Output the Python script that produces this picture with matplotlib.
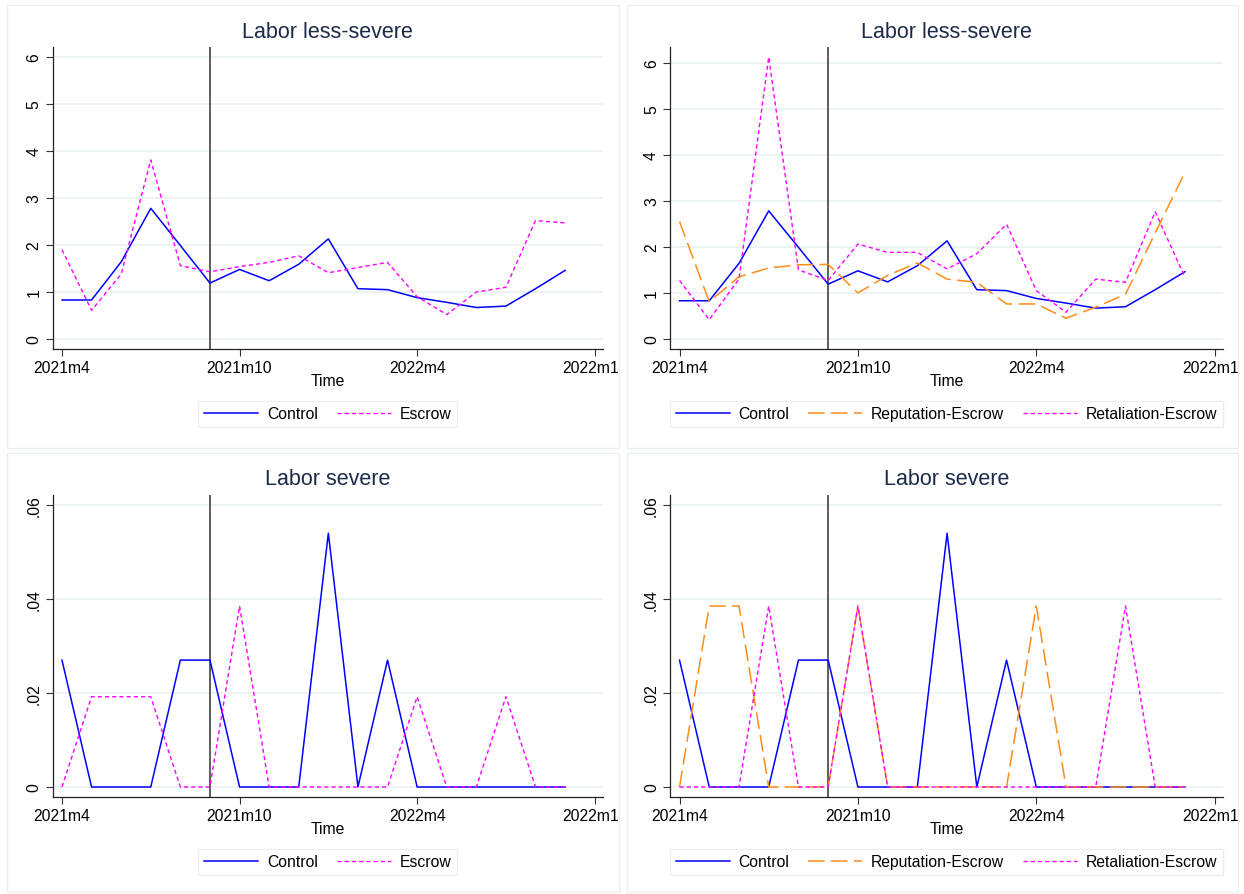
import matplotlib.pyplot as plt
from matplotlib.patches import Rectangle
import numpy as np

plt.rcParams['font.family'] = ['Liberation Sans', 'DejaVu Sans']
plt.rcParams['lines.scale_dashes'] = False

# monthly observations, 2021m4 .. 2022m9
months = ['2021m4', '2021m5', '2021m6', '2021m7', '2021m8', '2021m9',
          '2021m10', '2021m11', '2021m12', '2022m1', '2022m2', '2022m3',
          '2022m4', '2022m5', '2022m6', '2022m7', '2022m8', '2022m9']
tick_months = ['2021m4', '2021m10', '2022m4', '2022m10']
treat_month = '2021m9'

# Labor less-severe
less_control = [0.83, 0.83, 1.64, 2.78, 1.99, 1.19, 1.48, 1.24, 1.59, 2.13,
                1.07, 1.05, 0.88, 0.78, 0.67, 0.70, 1.07, 1.46]
less_escrow = [1.90, 0.61, 1.38, 3.81, 1.56, 1.43, 1.54, 1.63, 1.77, 1.41,
               1.52, 1.63, 0.90, 0.52, 1.00, 1.10, 2.52, 2.47]
less_reputation = [2.55, 0.81, 1.35, 1.54, 1.61, 1.62, 1.00, 1.38, 1.65, 1.30,
                   1.23, 0.76, 0.76, 0.45, 0.69, 0.97, 2.30, 3.62]
less_retaliation = [1.27, 0.42, 1.30, 6.12, 1.50, 1.27, 2.06, 1.88, 1.88, 1.52,
                    1.85, 2.49, 1.05, 0.58, 1.30, 1.23, 2.76, 1.34]

# Labor severe
sev_control = [0.027, 0, 0, 0, 0.027, 0.027, 0, 0, 0, 0.054,
               0, 0.027, 0, 0, 0, 0, 0, 0]
sev_escrow = [0, 0.0192, 0.0192, 0.0192, 0, 0, 0.0385, 0, 0, 0,
              0, 0, 0.0192, 0, 0, 0.0192, 0, 0]
sev_reputation = [0, 0.0385, 0.0385, 0, 0, 0, 0.0385, 0, 0, 0,
                  0, 0, 0.0385, 0, 0, 0, 0, 0]
sev_retaliation = [0, 0, 0, 0.0385, 0, 0, 0.0385, 0, 0, 0,
                   0, 0, 0, 0, 0, 0.0385, 0, 0]

less_ticks = [0, 1, 2, 3, 4, 5, 6]
less_ticklabels = ['0', '1', '2', '3', '4', '5', '6']
sev_ticks = [0, 0.02, 0.04, 0.06]
sev_ticklabels = ['0', '.02', '.04', '.06']

styles = {
    'Control': dict(color='#0000FF', ls='-', lw=1.1),
    'Escrow': dict(color='#FF00FF', ls=(0, (3, 2.2)), lw=1.0),
    'Reputation-Escrow': dict(color='#FF8C1A', ls=(0, (12, 4.5)), lw=1.1),
    'Retaliation-Escrow': dict(color='#FF00FF', ls=(0, (3, 2.2)), lw=1.0),
}


def month_index(lab):
    y, m = lab.split('m')
    return (int(y) - 2021) * 12 + int(m) - 4


W, H = 1244, 895
fig = plt.figure(figsize=(W / 100, H / 100), dpi=100)
GRID = '#E8EFF0'
TITLE_C = '#1c2b4a'


def px_rect(x0, y0, x1, y1):
    return [x0 / W, 1 - y1 / H, (x1 - x0) / W, (y1 - y0) / H]


def panel(x0, x1, y0, title, series, yticks, yticklabels):
    ax = fig.add_axes(px_rect(x0, y0, x1, y0 + 302))
    x = [month_index(m) for m in months]
    ax.axvline(month_index(treat_month), color='#333333', lw=1.1, zorder=1)
    for name, vals in series:
        ax.plot(x, vals, label=name, zorder=3, **styles[name])
    top = max(yticks[-1], max(max(v) for _, v in series))
    m = top * 10 / 282
    ax.set_ylim(-m, top + m)
    xt = [month_index(t) for t in tick_months]
    ax.set_xlim(xt[0] - 0.32, xt[-1] + 0.28)
    ax.set_xticks(xt)
    ax.set_xticklabels(tick_months)
    ax.set_yticks(yticks)
    ax.set_yticklabels(yticklabels, rotation=90, va='center')
    ax.yaxis.grid(True, color=GRID, lw=1.1, zorder=0)
    ax.set_axisbelow(True)
    for s in ['top', 'right']:
        ax.spines[s].set_visible(False)
    for s in ['left', 'bottom']:
        ax.spines[s].set_color('#222222')
        ax.spines[s].set_linewidth(0.9)
    ax.tick_params(labelsize=11.3, length=5, width=0.8, color='#333333', pad=3)
    cx = (x0 + x1) / 2
    fig.text(cx / W, 1 - (y0 - 16) / H, title, ha='center', va='center',
             fontsize=15.5, color=TITLE_C)
    fig.text(cx / W, 1 - (y0 + 334) / H, 'Time', ha='center', va='center',
             fontsize=11.3)
    leg = ax.legend(loc='center', bbox_to_anchor=(cx / W, 1 - (y0 + 367) / H),
                    bbox_transform=fig.transFigure, ncol=len(series),
                    fontsize=11.3, frameon=True, fancybox=False,
                    edgecolor=GRID, framealpha=1, handlelength=3.45,
                    handletextpad=0.55, columnspacing=1.2, borderpad=0.38)
    leg.get_frame().set_linewidth(0.9)
    return ax


panel(52.5, 603, 48, 'Labor less-severe',
      [('Control', less_control), ('Escrow', less_escrow)],
      less_ticks, less_ticklabels)
panel(670, 1223, 48, 'Labor less-severe',
      [('Control', less_control), ('Reputation-Escrow', less_reputation),
       ('Retaliation-Escrow', less_retaliation)],
      less_ticks, less_ticklabels)
panel(52.5, 603, 496, 'Labor severe',
      [('Control', sev_control), ('Escrow', sev_escrow)],
      sev_ticks, sev_ticklabels)
panel(670, 1223, 496, 'Labor severe',
      [('Control', sev_control), ('Reputation-Escrow', sev_reputation),
       ('Retaliation-Escrow', sev_retaliation)],
      sev_ticks, sev_ticklabels)

# white gutters clip the overflowing tick labels, then the panel frames
for gx0, gx1 in [(619.5, 627), (1238.5, 1244)]:
    fig.add_artist(Rectangle((gx0 / W, 0), (gx1 - gx0) / W, 1,
                             transform=fig.transFigure, facecolor='white',
                             edgecolor='none', zorder=5))
for bx0, by0, bx1, by1 in [(7, 6, 619, 449), (627, 6, 1238, 449),
                           (7, 454, 619, 893), (627, 454, 1238, 893)]:
    fig.add_artist(Rectangle((bx0 / W, 1 - by1 / H), (bx1 - bx0) / W,
                             (by1 - by0) / H, transform=fig.transFigure,
                             facecolor='none', edgecolor=GRID, lw=0.9,
                             zorder=6))

fig.savefig('out.png', dpi=100)
